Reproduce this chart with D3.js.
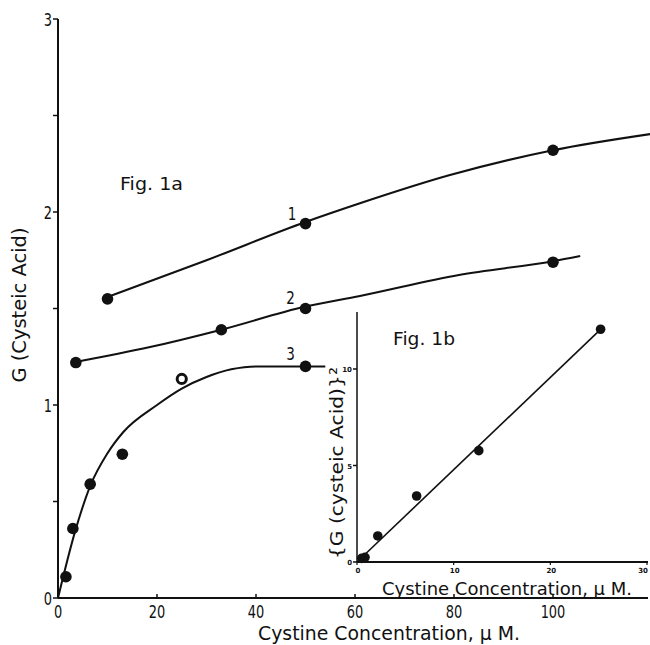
<!DOCTYPE html>
<html>
<head>
<meta charset="utf-8">
<script src="https://cdn.jsdelivr.net/npm/d3@7"></script>
<style>
body{margin:0;background:#fff}
svg text{font-family:"DejaVu Sans",sans-serif;fill:#111}
</style>
</head>
<body>
<svg id="chart" width="650" height="645"></svg>
<script>
// Fig 1a - measured points, G(cysteic acid) vs cystine conc (uM)
var pts1 = [[10,1.55],[50,1.94],[100,2.32]]
var pts2 = [[3.6,1.22],[33,1.39],[50,1.50],[100,1.74]]
var pts3 = [[1.6,0.11],[3,0.36],[6.5,0.59],[13,0.745],[50,1.2]]
var pts3open = [[25,1.135]]
// hand drawn curves
var curve1 = [[9,1.55],[30,1.75],[50,1.948],[61,2.045],[79,2.19],[100,2.32],[120,2.405]]
var curve2 = [[3,1.22],[18.6,1.3],[33,1.39],[50,1.51],[61,1.565],[81,1.674],[100,1.745],[105.5,1.772]]
var curve3 = [[0,0],[3.4,0.34],[6.5,0.58],[10,0.75],[13.2,0.86],[20,1.0],[25,1.085],[30,1.145],[35,1.185],[40,1.2],[54,1.2]]
var curveLabels = [["1",47.3,1.96],["2",47,1.525],["3",47,1.235]]
var xTicksA = [0,20,40,60,80,100]
var yTicksA = [0,1,2,3]
var yMinorA = [0.5,1.5,2.5]

// Fig 1b - squared G vs cystine conc
var ptsB = [[0.48,0.19],[0.83,0.24],[2.15,1.35],[6.17,3.42],[12.6,5.77],[25.2,12.06]]
var lineB = [[0,0],[25.2,12.05]]
var xTicksB = [0,10,20,30]
var yTicksB = [0,5,10]

var svg = d3.select("#chart")

// narrow the glyphs like the condensed type of the figure
function squeeze(sel,f){
    sel.each(function(){
        var w = this.getComputedTextLength()
        d3.select(this).attr("textLength",w*f).attr("lengthAdjust","spacingAndGlyphs")
    })
}

var x = d3.scaleLinear().domain([0,120]).range([58,652])
var y = d3.scaleLinear().domain([0,3]).range([598,19])

// main axes
svg.append("line").attr("x1",x(0)).attr("x2",648).attr("y1",y(0)).attr("y2",y(0)).attr("stroke","#111").attr("stroke-width",2)
svg.append("line").attr("x1",x(0)).attr("x2",x(0)).attr("y1",y(0)).attr("y2",y(3)).attr("stroke","#111").attr("stroke-width",2)

svg.selectAll(".ytk").data(yTicksA.concat(yMinorA)).enter().append("line")
    .attr("x1",x(0)-5).attr("x2",x(0)).attr("y1",function(d){return y(d)}).attr("y2",function(d){return y(d)})
    .attr("stroke","#111").attr("stroke-width",1.5)
svg.selectAll(".ylab").data(yTicksA).enter().append("text")
    .attr("x",x(0)-6).attr("y",function(d){return y(d)+7})
    .attr("text-anchor","end").style("font-size","18px").text(function(d){return d})
    .call(squeeze,0.72)
svg.selectAll(".xtk").data(xTicksA).enter().append("line")
    .attr("x1",function(d){return x(d)}).attr("x2",function(d){return x(d)})
    .attr("y1",y(0)-4).attr("y2",y(0)).attr("stroke","#111").attr("stroke-width",1.5)
svg.selectAll(".xlab").data(xTicksA).enter().append("text")
    .attr("x",function(d){return x(d)}).attr("y",y(0)+20)
    .attr("text-anchor","middle").style("font-size","18px").text(function(d){return d})
    .call(squeeze,0.72)

svg.append("text").attr("x",389).attr("y",640).attr("text-anchor","middle")
    .style("font-size","19px").text("Cystine Concentration, \u03bc M.")
    .attr("textLength",262).attr("lengthAdjust","spacingAndGlyphs")
svg.append("text").attr("transform","translate(26,305) rotate(-90)").attr("text-anchor","middle")
    .style("font-size","19px").text("G (Cysteic Acid)")
    .attr("textLength",155).attr("lengthAdjust","spacingAndGlyphs")
svg.append("text").attr("x",120).attr("y",190)
    .style("font-size","18px").text("Fig.  1a")
    .attr("textLength",63).attr("lengthAdjust","spacingAndGlyphs")

var line = d3.line().x(function(d){return x(d[0])}).y(function(d){return y(d[1])}).curve(d3.curveMonotoneX)
;[curve1,curve2,curve3].forEach(function(c){
    svg.append("path").datum(c).attr("d",line).attr("fill","none").attr("stroke","#111").attr("stroke-width",2)
})
svg.selectAll(".ptA").data(pts1.concat(pts2,pts3)).enter().append("circle")
    .attr("cx",function(d){return x(d[0])}).attr("cy",function(d){return y(d[1])})
    .attr("r",5.8).attr("fill","#111")
svg.selectAll(".ptO").data(pts3open).enter().append("circle")
    .attr("cx",function(d){return x(d[0])}).attr("cy",function(d){return y(d[1])})
    .attr("r",4.6).attr("fill","#fff").attr("stroke","#111").attr("stroke-width",3)
svg.selectAll(".clab").data(curveLabels).enter().append("text")
    .attr("x",function(d){return x(d[1])}).attr("y",function(d){return y(d[2])})
    .attr("text-anchor","middle").style("font-size","18px").text(function(d){return d[0]})
    .call(squeeze,0.75)

// inset
var xb = d3.scaleLinear().domain([0,30]).range([357,647])
var yb = d3.scaleLinear().domain([0,10]).range([562,369])

svg.append("line").attr("x1",xb(0)).attr("x2",648).attr("y1",yb(0)).attr("y2",yb(0)).attr("stroke","#111").attr("stroke-width",2)
svg.append("line").attr("x1",xb(0)).attr("x2",xb(0)).attr("y1",yb(0)).attr("y2",312).attr("stroke","#111").attr("stroke-width",1.5)
svg.selectAll(".ytkb").data(yTicksB).enter().append("line")
    .attr("x1",xb(0)-4).attr("x2",xb(0)).attr("y1",function(d){return yb(d)}).attr("y2",function(d){return yb(d)})
    .attr("stroke","#111").attr("stroke-width",1.5)
svg.selectAll(".ylabb").data(yTicksB).enter().append("text")
    .attr("x",xb(0)-5).attr("y",function(d){return yb(d)+3})
    .attr("text-anchor","end").style("font-size","7px").style("font-weight","bold").text(function(d){return d})
svg.selectAll(".xtkb").data(xTicksB).enter().append("line")
    .attr("x1",function(d){return xb(d)}).attr("x2",function(d){return xb(d)})
    .attr("y1",yb(0)).attr("y2",yb(0)+3).attr("stroke","#111").attr("stroke-width",1.2)
svg.selectAll(".xlabb").data(xTicksB).enter().append("text")
    .attr("x",function(d){return Math.min(xb(d)+1,643)}).attr("y",yb(0)+11)
    .attr("text-anchor","middle").style("font-size","7px").style("font-weight","bold").text(function(d){return d})

svg.append("text").attr("x",507).attr("y",595).attr("text-anchor","middle")
    .style("font-size","18px").text("Cystine Concentration, \u03bc M.")
    .attr("textLength",250).attr("lengthAdjust","spacingAndGlyphs")
svg.append("text").attr("transform","translate(343,463) rotate(-90)").attr("text-anchor","middle")
    .style("font-size","18px").text("{G (cysteic Acid)}\u00b2")
    .attr("textLength",192).attr("lengthAdjust","spacingAndGlyphs")
svg.append("text").attr("x",393).attr("y",345)
    .style("font-size","18px").text("Fig.  1b")
    .attr("textLength",62).attr("lengthAdjust","spacingAndGlyphs")

var lineb = d3.line().x(function(d){return xb(d[0])}).y(function(d){return yb(d[1])})
svg.append("path").datum(lineB).attr("d",lineb).attr("fill","none").attr("stroke","#111").attr("stroke-width",1.6)
svg.selectAll(".ptB").data(ptsB).enter().append("circle")
    .attr("cx",function(d){return xb(d[0])}).attr("cy",function(d){return yb(d[1])})
    .attr("r",4.8).attr("fill","#111")
</script>
</body>
</html>
